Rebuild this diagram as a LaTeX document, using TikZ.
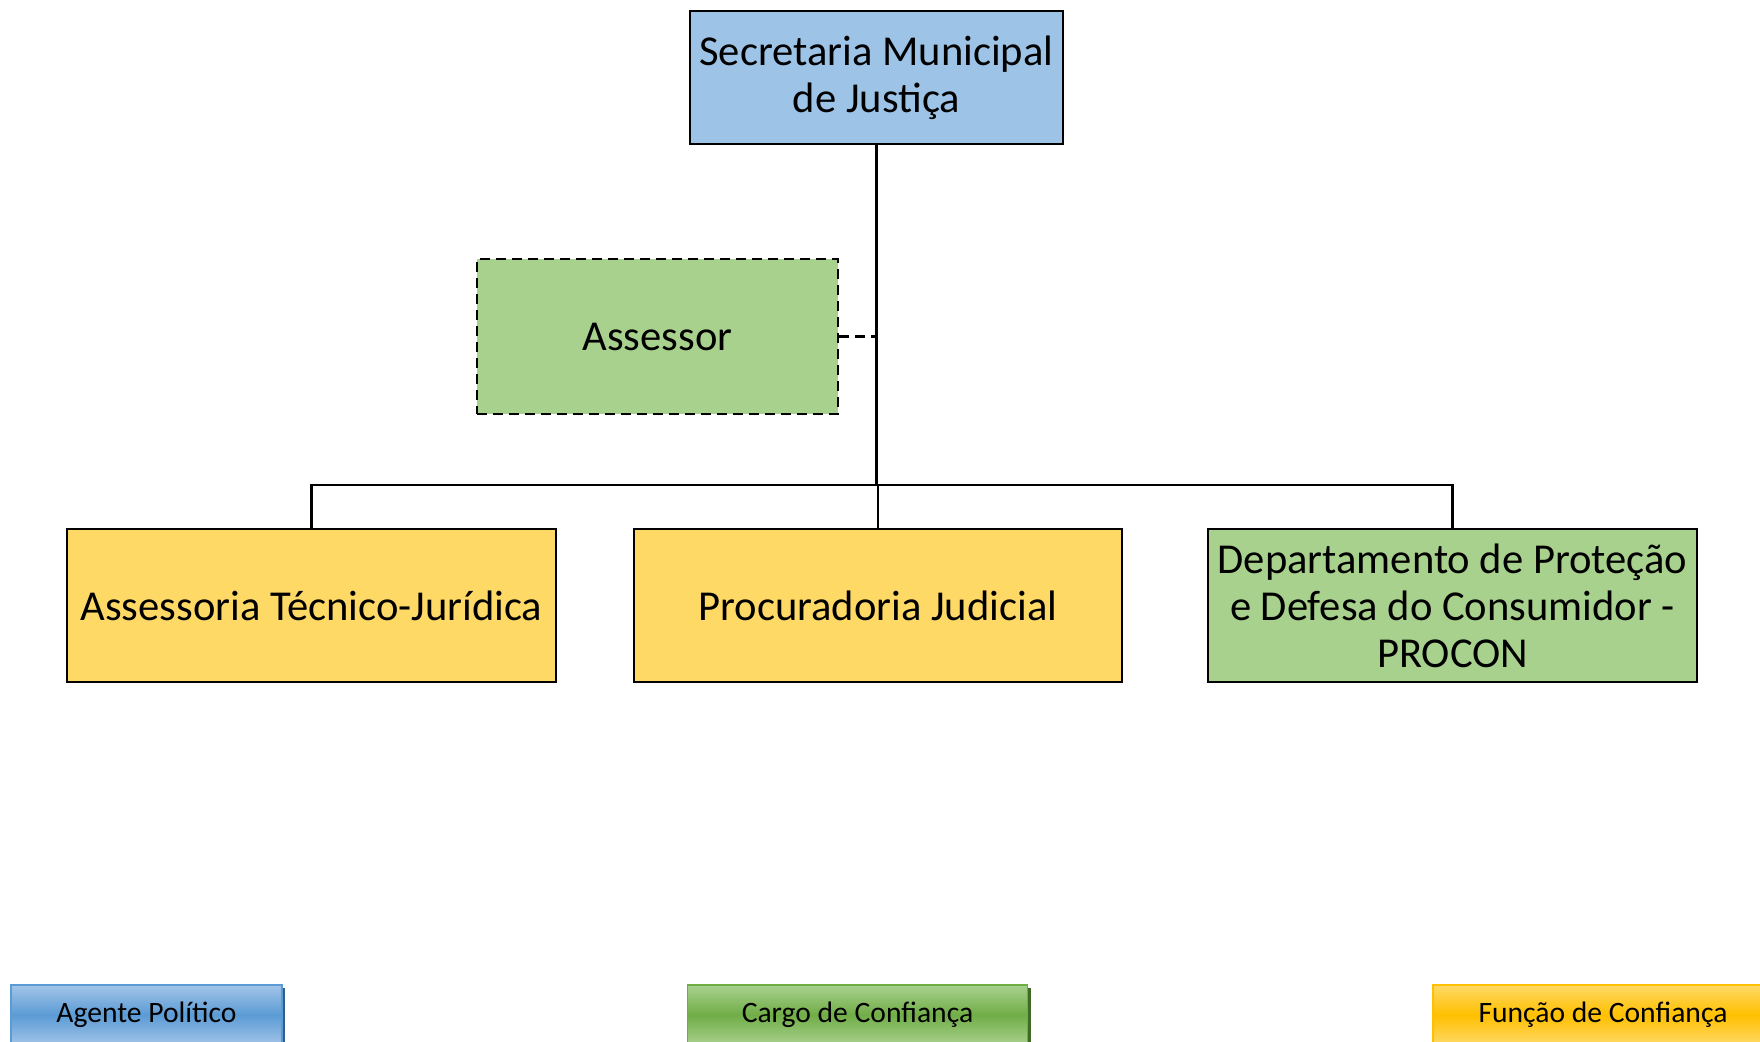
\documentclass[tikz,border=0pt]{standalone}
\usepackage{fontspec}
\setmainfont{Carlito}
\definecolor{topblue}{HTML}{9DC3E6}
\definecolor{lgreen}{HTML}{A9D18E}
\definecolor{lyellow}{HTML}{FFD966}
\definecolor{gblue}{HTML}{5B9BD5}
\definecolor{gblueL}{HTML}{A3C4E8}
\definecolor{gblueD}{HTML}{2E5F8E}
\definecolor{ggreen}{HTML}{70AD47}
\definecolor{ggreenL}{HTML}{A9D18E}
\definecolor{ggreenD}{HTML}{3F6B25}
\definecolor{ggold}{HTML}{FFC000}
\definecolor{ggoldL}{HTML}{FFD966}
\definecolor{ggoldD}{HTML}{9C7600}
\tikzset{
  orgbox/.style={draw=black, line width=1.4pt, align=center, inner sep=2pt,
    font=\fontsize{21.3}{23.5}\selectfont},
  legbox/.style={line width=0.8pt, font=\fontsize{14.8}{17}\selectfont,
    minimum height=30pt, inner sep=0pt},
  conn/.style={line width=1.3pt, draw=black},
  dashline/.style={dash pattern=on 5pt off 3pt},
}
\begin{document}
\begin{tikzpicture}[x=0.5pt,y=-0.5pt]
\useasboundingbox (0,0) rectangle (1760,1041);
\clip (0,0) rectangle (1760,1041);
\node[orgbox, fill=topblue, minimum width=186.5pt, minimum height=66.5pt] (top) at (876.5,77.5) {\raisebox{-1pt}{\parbox{180pt}{\centering Secretaria Municipal\\de Justiça}}};
\node[orgbox, fill=lgreen, dashline, minimum width=180.5pt, minimum height=77.5pt] (assessor) at (657.5,336.5) {Assessor};
\node[orgbox, fill=lyellow, minimum width=244.5pt, minimum height=76.5pt] (box1) at (311.5,605.5) {Assessoria Técnico-Jurídica};
\node[orgbox, fill=lyellow, minimum width=244pt, minimum height=76.5pt] (box2) at (878,605.5) {Procuradoria Judicial};
\node[orgbox, fill=lgreen, minimum width=244.5pt, minimum height=76.5pt] (box3) at (1452.5,605.5) {Departamento de Proteção\\e Defesa do Consumidor -\\PROCON};
\coordinate (bus) at (876,485);
\draw[conn] (top.south) -- (top.south |- bus);
\draw[conn] (box1.north) |- (bus) -| (box3.north);
\draw[conn] (box2.north) -- (box2.north |- bus);
\draw[conn, dashline] (assessor.east) -- (assessor.east -| top.south);
% legend
\fill[gblueD] (14,988) rectangle (285,1050);
\node[legbox, draw=gblue, top color=gblueL, bottom color=gblueL, middle color=gblue, minimum width=135.5pt] (leg1) at (146.5,1015) {Agente Político};
\fill[ggreenD] (691,988) rectangle (1031,1050);
\node[legbox, draw=ggreen, top color=ggreenL, bottom color=ggreenL, middle color=ggreen, minimum width=170pt] (leg2) at (857.5,1015) {Cargo de Confiança};
\fill[ggoldD] (1436,988) rectangle (1776,1050);
\node[legbox, draw=ggold, top color=ggoldL, bottom color=ggoldL, middle color=ggold, minimum width=170pt] (leg3) at (1603,1015) {Função de Confiança};
\end{tikzpicture}
\end{document}
